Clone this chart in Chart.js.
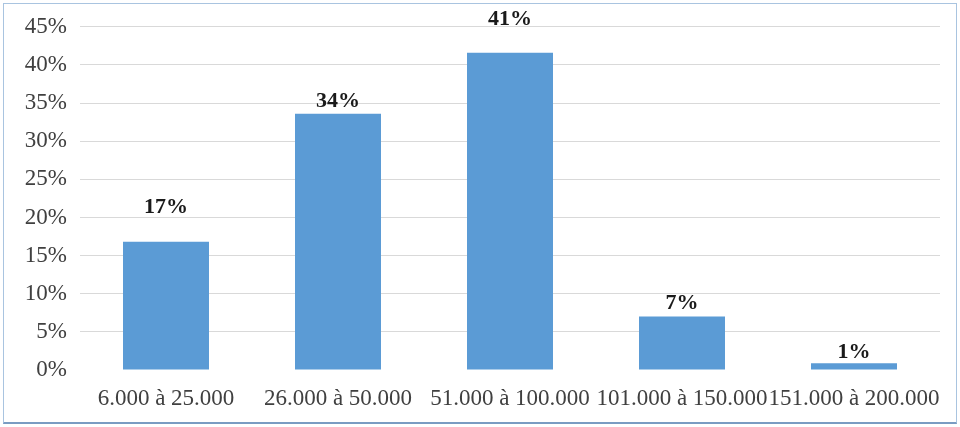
<!DOCTYPE html>
<html>
<head>
<meta charset="utf-8">
<script src="https://cdn.jsdelivr.net/npm/chart.js@4/dist/chart.umd.min.js"></script>
<style>
  body { margin: 0; background: #fff; }
  #wrap { position: relative; width: 960px; height: 427px; }
  #frame { position: absolute; left: 3px; top: 3px; width: 954px; height: 421px;
           border: 1px solid #a9c4e0; border-bottom: 2px solid #7a9cc2; box-sizing: border-box; }
</style>
</head>
<body>
<div id="wrap">
  <canvas id="incomeChart" width="960" height="427"></canvas>
  <div id="frame"></div>
</div>
<script>
const categories = ['6.000 à 25.000', '26.000 à 50.000', '51.000 à 100.000', '101.000 à 150.000', '151.000 à 200.000'];
const shares = [16.8, 33.6, 41.6, 7.0, 0.9];
const shareLabels = ['17%', '34%', '41%', '7%', '1%'];
const yTicks = [0, 5, 10, 15, 20, 25, 30, 35, 40, 45];

// labels were placed by hand in the original, so each gets its own lift
const labelLift = [35, 12, 33, 13, 11];

const barLabels = {
  id: 'barLabels',
  afterDatasetsDraw(chart) {
    const ctx = chart.ctx;
    const meta = chart.getDatasetMeta(0);
    ctx.save();
    ctx.font = 'bold 22px "Liberation Serif", serif';
    ctx.fillStyle = '#1a1a1a';
    ctx.textAlign = 'center';
    ctx.textBaseline = 'middle';
    meta.data.forEach((bar, i) => {
      ctx.fillText(shareLabels[i], bar.x, bar.y - labelLift[i]);
    });
    ctx.restore();
  }
};

new Chart(document.getElementById('incomeChart'), {
  type: 'bar',
  data: {
    labels: categories,
    datasets: [{
      data: shares,
      backgroundColor: '#5b9bd5',
      categoryPercentage: 1,
      barPercentage: 0.5
    }]
  },
  options: {
    responsive: false,
    animation: false,
    layout: { padding: { top: 25, right: 20, bottom: 0, left: 0 } },
    plugins: {
      legend: { display: false },
      tooltip: { enabled: false }
    },
    scales: {
      x: {
        grid: { display: false },
        border: { display: false },
        ticks: {
          color: '#404040',
          font: { family: '"Liberation Serif", serif', size: 23 },
          maxRotation: 0,
          autoSkip: false,
          padding: 7
        },
        afterFit(scale) { scale.height = 57; }
      },
      y: {
        min: 0,
        max: 45,
        afterBuildTicks(scale) { scale.ticks = yTicks.map(v => ({ value: v })); },
        grid: {
          drawTicks: false,
          lineWidth: 1,
          color: c => c.tick && c.tick.value === 0 ? 'rgba(0,0,0,0)' : '#d9d9d9'
        },
        border: { display: false },
        ticks: {
          color: '#404040',
          font: { family: '"Liberation Serif", serif', size: 23 },
          padding: 13,
          callback: v => v + '%'
        },
        afterFit(scale) { scale.width = 80; }
      }
    }
  },
  plugins: [barLabels]
});
</script>
</body>
</html>
